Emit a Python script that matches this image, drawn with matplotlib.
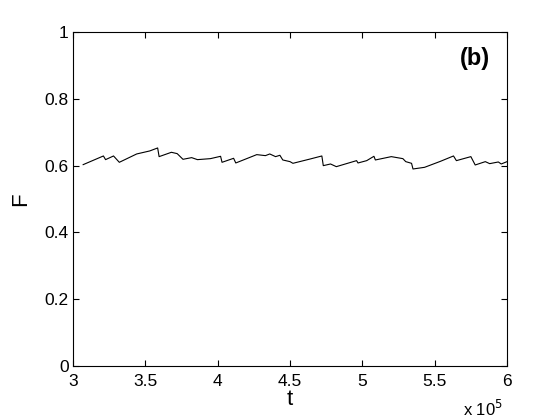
import matplotlib
matplotlib.use("Agg")
import matplotlib.pyplot as plt

plt.rcParams['font.family'] = ['Liberation Sans', 'DejaVu Sans']

# time in units of 1e5
t = [3.07, 3.21, 3.225, 3.28, 3.32, 3.44, 3.53, 3.585, 3.595, 3.68, 3.72, 3.76,
     3.82, 3.86, 3.95, 4.00, 4.02, 4.03, 4.11, 4.125, 4.27, 4.33, 4.36, 4.40,
     4.43, 4.45, 4.50, 4.52, 4.64, 4.72, 4.73, 4.78, 4.82, 4.89, 4.96, 4.97,
     5.03, 5.08, 5.09, 5.20, 5.28, 5.30, 5.34, 5.35, 5.43, 5.54, 5.63, 5.65,
     5.75, 5.78, 5.85, 5.88, 5.94, 5.96, 6.00]
F = [0.603, 0.629, 0.618, 0.629, 0.610, 0.635, 0.644, 0.653, 0.627, 0.640, 0.636, 0.619,
     0.624, 0.618, 0.621, 0.626, 0.628, 0.610, 0.622, 0.608, 0.633, 0.630, 0.635, 0.627,
     0.631, 0.617, 0.612, 0.607, 0.620, 0.629, 0.600, 0.605, 0.597, 0.606, 0.615, 0.608,
     0.615, 0.628, 0.617, 0.627, 0.621, 0.612, 0.607, 0.590, 0.595, 0.613, 0.629, 0.615,
     0.627, 0.602, 0.612, 0.606, 0.611, 0.605, 0.612]

xticks = [3, 3.5, 4, 4.5, 5, 5.5, 6]
xticklabels = ["3", "3.5", "4", "4.5", "5", "5.5", "6"]
yticks = [0, 0.2, 0.4, 0.6, 0.8, 1]
yticklabels = ["0", "0.2", "0.4", "0.6", "0.8", "1"]

fig = plt.figure(figsize=(5.6, 4.2), dpi=100)
ax = fig.add_axes([0.1304, 0.1286, 0.775, 0.795])
ax.plot(t, F, color="black", linewidth=0.8)

ax.set_xlim(3, 6)
ax.set_ylim(0, 1)
ax.set_xticks(xticks)
ax.set_xticklabels(xticklabels)
ax.set_yticks(yticks)
ax.set_yticklabels(yticklabels)
ax.tick_params(direction="in", top=True, right=True, labelsize=12.5, length=4)
ax.tick_params(axis="x", pad=6)
ax.tick_params(axis="y", pad=3)
ax.set_xlabel("t", fontsize=16, labelpad=0)
ax.set_ylabel("F", fontsize=16, labelpad=10)
ax.text(0.925, 0.92, "(b)", transform=ax.transAxes, fontsize=17,
        fontweight="bold", ha="center", va="center")
ax.text(0.945, -0.13, r"x 10$^5$", transform=ax.transAxes, fontsize=12,
        ha="center", va="center")

fig.savefig("out.png", dpi=100)
